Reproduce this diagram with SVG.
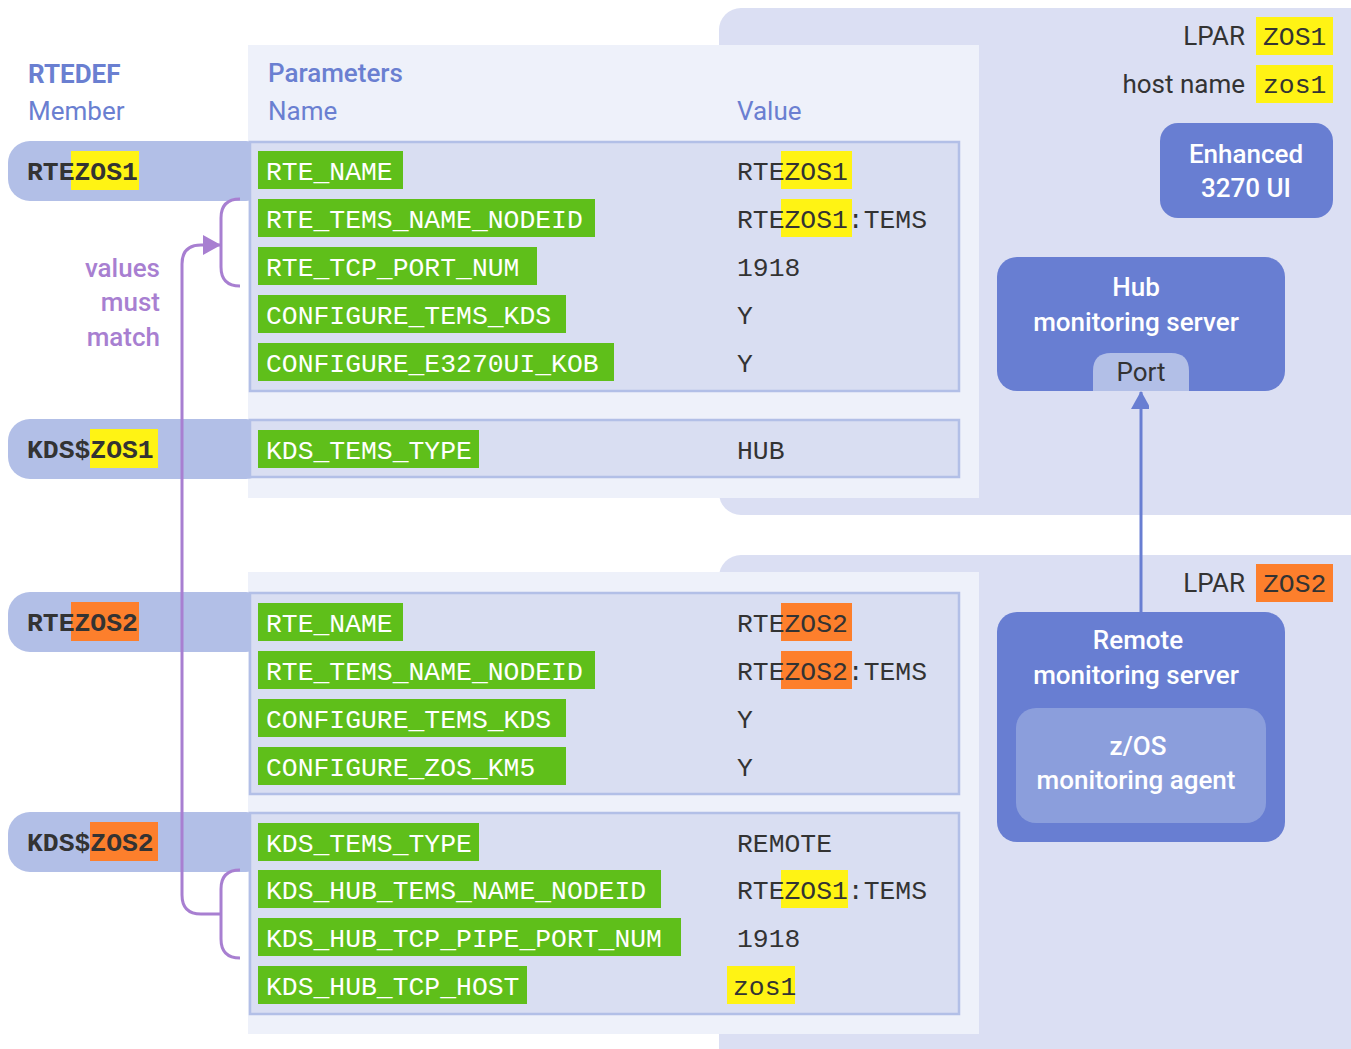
<svg xmlns="http://www.w3.org/2000/svg" width="1351" height="1049" viewBox="0 0 1351 1049">
<style>
.lpar{fill:#dbdff3}
.panel{fill:#eef1fa}
.pill{fill:#b2bfe7}
.tbl{fill:#d9def2;stroke:#b2bfe7;stroke-width:2.5}
.grn{fill:#5fbf1a}
.yel{fill:#fff314}
.org{fill:#fd7f2c}
.blue{fill:#687ed2}
.mono{font-family:"Liberation Mono","DejaVu Sans Mono",monospace;font-size:26.4px}
.lbl{fill:#ffffff}
.val{fill:#333333}
.mem{fill:#333333;font-weight:bold}
.sans{font-family:Roboto,"Liberation Sans",sans-serif;font-size:26px}
.hdr{fill:#6a7fd1}
.b{font-weight:500}
.wt{fill:#ffffff;font-weight:500;text-anchor:middle}
.dk{fill:#333333}
.pur{fill:#a87fd1;font-weight:500;text-anchor:end}
</style>
<defs>
<marker id="ahP" markerWidth="18" markerHeight="20" refX="17" refY="10" orient="auto" markerUnits="userSpaceOnUse"><path d="M0,0 L18,10 L0,20 Z" fill="#a87fd1"/></marker>
<marker id="ahB" markerWidth="20" markerHeight="18" refX="17" refY="10" orient="auto" markerUnits="userSpaceOnUse"><path d="M0,0 L18,10 L0,20 Z" fill="#687ed2"/></marker>
</defs>
<rect width="1351" height="1049" fill="#ffffff"/>

<g id="lpar1">
<rect class="lpar" x="719" y="8" width="652" height="507" rx="22"/>
<text class="sans dk" x="1245" y="45" text-anchor="end">LPAR</text>
<rect class="yel" x="1256" y="17" width="77" height="38"/>
<text class="mono dk" x="1263" y="45">ZOS1</text>
<text class="sans dk" x="1245" y="93" text-anchor="end">host name</text>
<rect class="yel" x="1256" y="65" width="77" height="38"/>
<text class="mono dk" x="1263" y="93">zos1</text>
</g>
<g id="lpar2">
<rect class="lpar" x="719" y="555" width="652" height="520" rx="22"/>
<text class="sans dk" x="1245" y="592" text-anchor="end">LPAR</text>
<rect class="org" x="1256" y="564" width="77" height="38"/>
<text class="mono dk" x="1263" y="592">ZOS2</text>
</g>

<g id="headers">
<text class="sans hdr" x="28" y="83" font-weight="bold">RTEDEF</text>
<text class="sans hdr" x="28" y="120">Member</text>
</g>

<g id="panel1">
<rect class="panel" x="248" y="45" width="731" height="453"/>
<text class="sans hdr b" x="268" y="82">Parameters</text>
<text class="sans hdr" x="268" y="120">Name</text>
<text class="sans hdr" x="737" y="120">Value</text>
</g>
<g id="panel2">
<rect class="panel" x="248" y="572" width="731" height="462"/>
</g>

<g id="member-rtezos1">
<rect class="pill" x="8" y="141" width="260" height="60" rx="22"/>
<rect class="yel" x="71" y="151" width="68" height="39"/>
<text class="mono mem" x="27" y="180">RTEZOS1</text>
</g>
<g id="member-kdszos1">
<rect class="pill" x="8" y="419" width="260" height="60" rx="22"/>
<rect class="yel" x="90" y="429" width="68" height="39"/>
<text class="mono mem" x="27" y="458">KDS$ZOS1</text>
</g>
<g id="member-rtezos2">
<rect class="pill" x="8" y="592" width="260" height="60" rx="22"/>
<rect class="org" x="71" y="602" width="68" height="39"/>
<text class="mono mem" x="27" y="631">RTEZOS2</text>
</g>
<g id="member-kdszos2">
<rect class="pill" x="8" y="812" width="260" height="60" rx="22"/>
<rect class="org" x="90" y="822" width="68" height="39"/>
<text class="mono mem" x="27" y="851">KDS$ZOS2</text>
</g>

<g id="table-rtezos1">
<rect class="tbl" x="250" y="142" width="709" height="249"/>
<rect class="grn" x="258" y="151" width="145" height="38"/>
<text class="mono lbl" x="266" y="180">RTE_NAME</text>
<rect class="grn" x="258" y="199" width="337" height="38"/>
<text class="mono lbl" x="266" y="228">RTE_TEMS_NAME_NODEID</text>
<rect class="grn" x="258" y="247" width="279" height="38"/>
<text class="mono lbl" x="266" y="276">RTE_TCP_PORT_NUM</text>
<rect class="grn" x="258" y="295" width="308" height="38"/>
<text class="mono lbl" x="266" y="324">CONFIGURE_TEMS_KDS</text>
<rect class="grn" x="258" y="343" width="356" height="38"/>
<text class="mono lbl" x="266" y="372">CONFIGURE_E3270UI_KOB</text>
<rect class="yel" x="781" y="151" width="71" height="38"/>
<text class="mono val" x="737" y="180">RTEZOS1</text>
<rect class="yel" x="781" y="199" width="71" height="38"/>
<text class="mono val" x="737" y="228">RTEZOS1:TEMS</text>
<text class="mono val" x="737" y="276">1918</text>
<text class="mono val" x="737" y="324">Y</text>
<text class="mono val" x="737" y="372">Y</text>
</g>
<g id="table-kdszos1">
<rect class="tbl" x="250" y="420" width="709" height="57"/>
<rect class="grn" x="258" y="430" width="221" height="38"/>
<text class="mono lbl" x="266" y="459">KDS_TEMS_TYPE</text>
<text class="mono val" x="737" y="459">HUB</text>
</g>
<g id="table-rtezos2">
<rect class="tbl" x="250" y="593" width="709" height="201"/>
<rect class="grn" x="258" y="603" width="145" height="38"/>
<text class="mono lbl" x="266" y="632">RTE_NAME</text>
<rect class="grn" x="258" y="651" width="337" height="38"/>
<text class="mono lbl" x="266" y="680">RTE_TEMS_NAME_NODEID</text>
<rect class="grn" x="258" y="699" width="308" height="38"/>
<text class="mono lbl" x="266" y="728">CONFIGURE_TEMS_KDS</text>
<rect class="grn" x="258" y="747" width="308" height="38"/>
<text class="mono lbl" x="266" y="776">CONFIGURE_ZOS_KM5</text>
<rect class="org" x="781" y="603" width="71" height="38"/>
<text class="mono val" x="737" y="632">RTEZOS2</text>
<rect class="org" x="781" y="651" width="71" height="38"/>
<text class="mono val" x="737" y="680">RTEZOS2:TEMS</text>
<text class="mono val" x="737" y="728">Y</text>
<text class="mono val" x="737" y="776">Y</text>
</g>
<g id="table-kdszos2">
<rect class="tbl" x="250" y="813" width="709" height="201"/>
<rect class="grn" x="258" y="823" width="221" height="38"/>
<text class="mono lbl" x="266" y="852">KDS_TEMS_TYPE</text>
<rect class="grn" x="258" y="870" width="403" height="38"/>
<text class="mono lbl" x="266" y="899">KDS_HUB_TEMS_NAME_NODEID</text>
<rect class="grn" x="258" y="918" width="423" height="38"/>
<text class="mono lbl" x="266" y="947">KDS_HUB_TCP_PIPE_PORT_NUM</text>
<rect class="grn" x="258" y="966" width="269" height="38"/>
<text class="mono lbl" x="266" y="995">KDS_HUB_TCP_HOST</text>
<text class="mono val" x="737" y="852">REMOTE</text>
<rect class="yel" x="781" y="870" width="67" height="38"/>
<text class="mono val" x="737" y="899">RTEZOS1:TEMS</text>
<text class="mono val" x="737" y="947">1918</text>
<rect class="yel" x="727" y="966" width="68" height="38"/>
<text class="mono val" x="733" y="995">zos1</text>
</g>

<g id="note">
<text class="sans pur" x="160" y="277">values</text>
<text class="sans pur" x="160" y="311">must</text>
<text class="sans pur" x="160" y="346">match</text>
</g>

<g id="enhanced-3270-ui">
<rect class="blue" x="1160" y="123" width="173" height="95" rx="18"/>
<text class="sans wt" x="1246" y="163">Enhanced</text>
<text class="sans wt" x="1246" y="197">3270 UI</text>
</g>
<g id="hub-server">
<rect class="blue" x="997" y="257" width="288" height="134" rx="20"/>
<text class="sans wt" x="1136" y="296">Hub</text>
<text class="sans wt" x="1136" y="331">monitoring server</text>
<path class="pill" d="M1093,391 V371 Q1093,353 1111,353 H1171 Q1189,353 1189,371 V391 Z"/>
<text class="sans dk" x="1141" y="381" text-anchor="middle">Port</text>
</g>
<g id="remote-server">
<rect class="blue" x="997" y="612" width="288" height="230" rx="20"/>
<text class="sans wt" x="1138" y="649">Remote</text>
<text class="sans wt" x="1136" y="684">monitoring server</text>
<g id="zos-agent">
<rect x="1016" y="708" width="250" height="115" rx="20" fill="#8b9edc"/>
<text class="sans wt" x="1138" y="755">z/OS</text>
<text class="sans wt" x="1136" y="789">monitoring agent</text>
</g>
</g>

<g id="connectors" fill="none" stroke-width="3">
<path d="M240,199 Q221,199 221,218 V267 Q221,286 240,286" stroke="#a87fd1"/>
<path d="M240,870 Q221,870 221,889 V939 Q221,958 240,958" stroke="#a87fd1"/>
<path d="M221,914 H201 Q182,914 182,895 V264 Q182,245 201,245 H220" stroke="#a87fd1" marker-end="url(#ahP)"/>
<path d="M1141,612 V392" stroke="#687ed2" marker-end="url(#ahB)"/>
</g>
</svg>
